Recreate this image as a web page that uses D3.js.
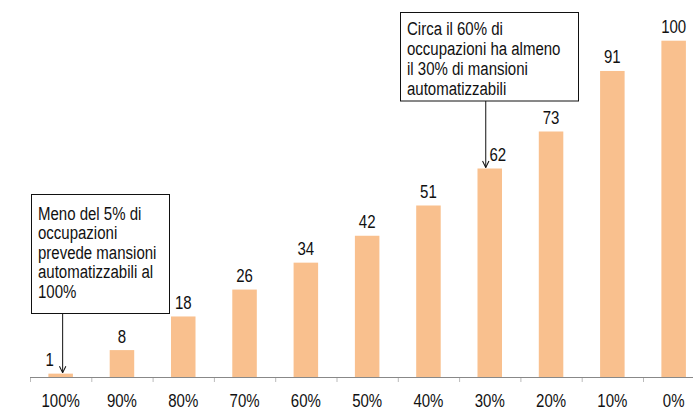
<!DOCTYPE html>
<html><head><meta charset="utf-8">
<script src="https://cdn.jsdelivr.net/npm/d3@7"></script>
<style>body{margin:0;background:#fff}text{font-family:"Liberation Sans",Arial,sans-serif;fill:#111}</style>
</head><body><svg id="c" width="693" height="412"></svg>
<script>
const categories = ["100%","90%","80%","70%","60%","50%","40%","30%","20%","10%","0%"];
const values = [1,8,18,26,34,42,51,62,73,91,100];
const note1 = ["Meno del 5% di","occupazioni","prevede mansioni","automatizzabili al","100%"];
const note2 = ["Circa il 60% di","occupazioni ha almeno","il 30% di mansioni","automatizzabili"];

const svg = d3.select("#c");
const FS = 19, SX = 0.79;
const x0 = 30, x1 = 704.3, yBase = 377;
const x = d3.scaleBand().domain(categories).range([x0, x1]).paddingInner(0.6).paddingOuter(0.3);
const y = d3.scaleLinear().domain([0, 100]).range([yBase, 40.7]);
const step = x.step();

function txt(g, px, py, s, anchor){
  return g.append("text").attr("transform",`translate(${px},${py}) scale(${SX},1)`)
    .attr("text-anchor",anchor||"start").attr("font-size",FS).text(s);
}

svg.append("defs").append("marker").attr("id","ah").attr("viewBox","0 0 10 10")
  .attr("refX",9).attr("refY",5).attr("markerWidth",8).attr("markerHeight",8).attr("orient","auto")
  .append("path").attr("d","M1,1 L9,5 L1,9").attr("fill","none").attr("stroke","#111").attr("stroke-width",1.3);

svg.selectAll("rect.bar").data(values).join("rect").attr("class","bar")
  .attr("x",(d,i)=>x(categories[i])).attr("width",x.bandwidth())
  .attr("y",d=>y(d)).attr("height",d=>yBase-y(d)).attr("fill","#f9c08e");

// axis
svg.append("line").attr("x1",x0).attr("x2",693).attr("y1",yBase+0.5).attr("y2",yBase+0.5).attr("stroke","#888").attr("stroke-width",1);
svg.selectAll("line.tk").data(d3.range(categories.length+1)).join("line").attr("class","tk")
  .attr("x1",i=>x0+i*step+0.5).attr("x2",i=>x0+i*step+0.5).attr("y1",yBase+1).attr("y2",yBase+5)
  .attr("stroke","#bbb");
categories.forEach(c=>txt(svg, x(c)+x.bandwidth()/2, 407, c, "middle"));

const dxLab = i => i===0 ? -11 : (i===7 ? 8 : 0);
values.forEach((v,i)=>txt(svg, x(categories[i])+x.bandwidth()/2+dxLab(i), y(v)-7.5, String(v), "middle"));

function note(lines, bx, by, bw, bh, first, lh, ax, ayEnd){
  svg.append("rect").attr("x",bx+0.5).attr("y",by+0.5).attr("width",bw).attr("height",bh)
    .attr("fill","#fff").attr("stroke","#111").attr("stroke-width",1);
  lines.forEach((t,k)=>txt(svg, bx+7, by+first+k*lh, t));
  svg.append("line").attr("x1",ax).attr("x2",ax).attr("y1",by+bh+0.5).attr("y2",ayEnd)
    .attr("stroke","#111").attr("stroke-width",1).attr("marker-end","url(#ah)");
}
const c0 = x(categories[0])+x.bandwidth()/2, c7 = x(categories[7])+x.bandwidth()/2;
note(note1, 31, 194, 138, 119, 26, 19.4, c0+2, y(values[0])-1);
note(note2, 400, 12, 178, 88.5, 22.5, 20.2, c7-4, y(values[7])-1);
</script></body></html>
